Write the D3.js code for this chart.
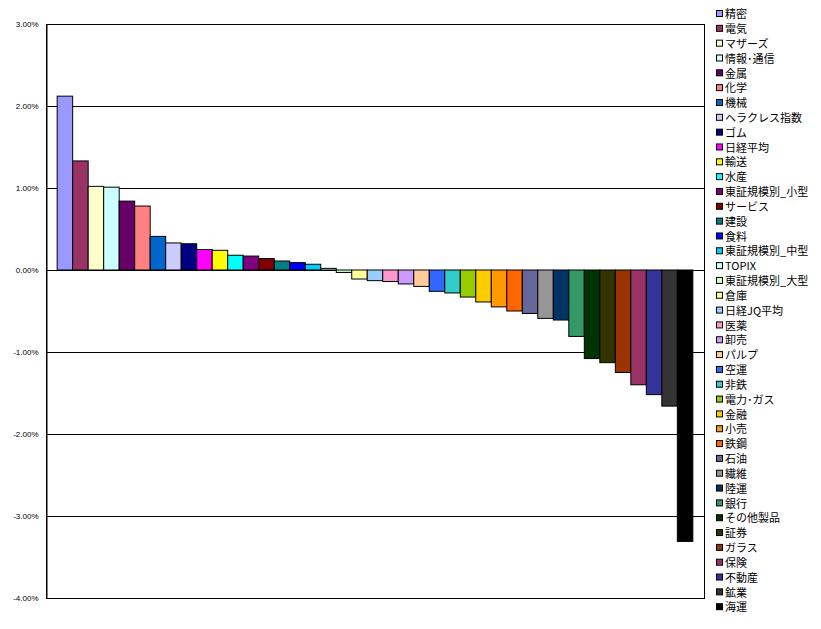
<!DOCTYPE html>
<html>
<head>
<meta charset="utf-8">
<script src="https://cdn.jsdelivr.net/npm/d3@7"></script>
<style>
	body { margin: 0; background: #fff; }
	svg { display: block; }
</style>
</head>
<body>
<div id="chart"></div>
<script>
// DATA: sectors, daily change (%) and bar colours, in legend order
const names = ['精密', '電気', 'マザーズ', '情報･通信', '金属', '化学', '機械', 'ヘラクレス指数', 'ゴム', '日経平均',
	'輸送', '水産', '東証規模別_小型', 'サービス', '建設', '食料', '東証規模別_中型', 'TOPIX', '東証規模別_大型', '倉庫',
	'日経JQ平均', '医薬', '卸売', 'パルプ', '空運', '非鉄', '電力･ガス', '金融', '小売', '鉄鋼',
	'石油', '繊維', '陸運', '銀行', 'その他製品', '証券', 'ガラス', '保険', '不動産', '鉱業', '海運'];
const values = [2.12, 1.33, 1.02, 1.01, 0.84, 0.78, 0.41, 0.33, 0.32, 0.25,
	0.24, 0.18, 0.17, 0.14, 0.11, 0.09, 0.07, 0.02, -0.03, -0.11,
	-0.13, -0.14, -0.17, -0.20, -0.26, -0.28, -0.33, -0.39, -0.45, -0.50,
	-0.53, -0.59, -0.61, -0.81, -1.08, -1.13, -1.25, -1.40, -1.52, -1.66, -3.31];
const colors = ['#9999FF', '#993366', '#FFFFCC', '#CCFFFF', '#660066', '#FF8080', '#0066CC', '#CCCCFF', '#000080', '#FF00FF',
	'#FFFF00', '#00FFFF', '#800080', '#800000', '#008080', '#0000FF', '#00CCFF', '#CCFFFF', '#CCFFCC', '#FFFF99',
	'#99CCFF', '#FF99CC', '#CC99FF', '#FFCC99', '#3366FF', '#33CCCC', '#99CC00', '#FFCC00', '#FF9900', '#FF6600',
	'#666699', '#969696', '#003366', '#339966', '#003300', '#333300', '#993300', '#993366', '#333399', '#333333', '#000000'];
const yTicks = [3, 2, 1, 0, -1, -2, -3, -4];

// chart dimension
const w = 821;
const h = 629;
const plot = { left: 46, top: 24, right: 704, bottom: 598 };

const svg = d3.select('#chart').append('svg')
	.attr('width', w)
	.attr('height', h);

// scales
const xScale = d3.scaleBand()
	.domain(names)
	.range([plot.left, plot.right])
	.paddingInner(0)
	.paddingOuter(0.72);
const yScale = d3.scaleLinear()
	.domain([-4, 3])
	.range([plot.bottom, plot.top]);

// gridlines
svg.append('g')
	.selectAll('line')
	.data(yTicks)
	.enter()
	.append('line')
	.attr('x1', plot.left)
	.attr('x2', plot.right)
	.attr('y1', d => Math.round(yScale(d)) + 0.5)
	.attr('y2', d => Math.round(yScale(d)) + 0.5)
	.attr('stroke', '#000')
	.attr('stroke-width', 1);

// plot border
svg.append('rect')
	.attr('x', plot.left + 0.5)
	.attr('y', Math.round(yScale(3)) + 0.5)
	.attr('width', plot.right - plot.left)
	.attr('height', Math.round(yScale(-4)) - Math.round(yScale(3)))
	.attr('fill', 'none')
	.attr('stroke', '#000');

// bars
const y0 = yScale(0);
svg.append('g')
	.selectAll('rect')
	.data(names)
	.enter()
	.append('rect')
	.attr('x', d => xScale(d))
	.attr('width', xScale.bandwidth())
	.attr('y', (d, i) => Math.min(yScale(values[i]), y0))
	.attr('height', (d, i) => Math.abs(yScale(values[i]) - y0))
	.attr('fill', (d, i) => colors[i])
	.attr('stroke', '#000')
	.attr('stroke-width', 1);

// y axis
const yAxis = d3.axisLeft(yScale)
	.tickValues(yTicks)
	.tickSize(0)
	.tickPadding(8)
	.tickFormat(d => d.toFixed(2) + '%');
svg.append('g')
	.attr('transform', `translate(${plot.left + 0.5}, 0)`)
	.call(yAxis)
	.call(g => g.select('.domain').attr('stroke', '#000'))
	.call(g => g.selectAll('text')
		.attr('font-family', 'Arial, "Liberation Sans", sans-serif')
		.attr('font-size', 8)
		.attr('fill', '#000'));

// legend
const legend = svg.append('g')
	.attr('transform', 'translate(716, 14)');
const items = legend.selectAll('g')
	.data(names)
	.enter()
	.append('g')
	.attr('transform', (d, i) => `translate(0, ${i * 14.83})`);
items.append('rect')
	.attr('x', 0.5)
	.attr('y', -3.5)
	.attr('width', 6)
	.attr('height', 6)
	.attr('fill', (d, i) => colors[i])
	.attr('stroke', '#000');
items.append('text')
	.attr('x', 9)
	.attr('y', 0)
	.attr('dy', '0.38em')
	.attr('font-family', '"Noto Sans CJK JP", sans-serif')
	.attr('font-size', 11)
	.attr('fill', '#000')
	.text(d => d);
</script>
</body>
</html>
